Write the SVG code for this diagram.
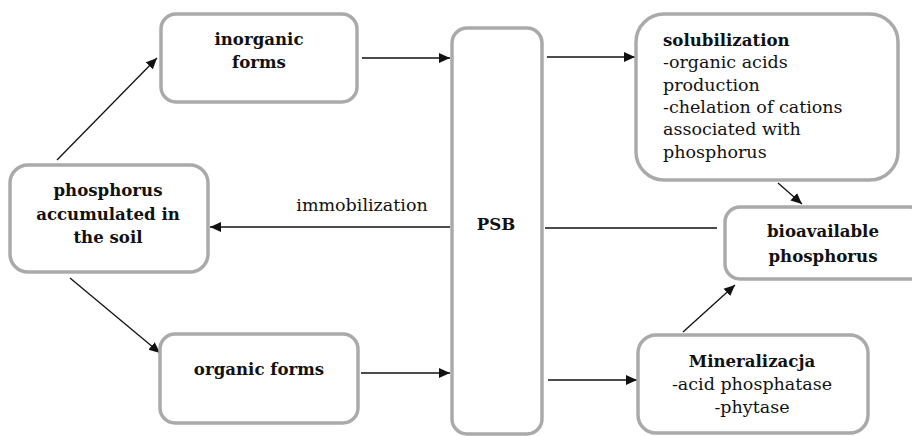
<svg xmlns="http://www.w3.org/2000/svg" width="912" height="436" viewBox="0 0 912 436">
<style>
.box{fill:#fff;stroke:#aaaaaa;stroke-width:3.5}
.t{font-family:"DejaVu Serif","Liberation Serif",serif;font-size:17.5px;fill:#111}
.b{font-weight:bold;font-size:16.6px}
.m{text-anchor:middle}
.c{stroke:#111;stroke-width:1.3;fill:none}
</style>
<defs>
<marker id="ah" viewBox="0 0 10 10" refX="10" refY="5" markerWidth="11" markerHeight="11" markerUnits="userSpaceOnUse" orient="auto">
<path d="M0,0.5 L10,5 L0,9.5 Z" fill="#111"/>
</marker>
</defs>
<rect width="912" height="436" fill="#fff"/>
<g id="connectors">
<line class="c" x1="57" y1="160" x2="157" y2="58" marker-end="url(#ah)"/>
<line class="c" x1="70" y1="278" x2="160" y2="353" marker-end="url(#ah)"/>
<line class="c" x1="362" y1="58" x2="450" y2="58" marker-end="url(#ah)"/>
<line class="c" x1="361" y1="373" x2="450" y2="373" marker-end="url(#ah)"/>
<line class="c" x1="450" y1="227" x2="210" y2="227" marker-end="url(#ah)"/>
<line class="c" x1="545" y1="228" x2="717" y2="228"/>
<line class="c" x1="547" y1="57" x2="635" y2="57" marker-end="url(#ah)"/>
<line class="c" x1="548" y1="380" x2="637" y2="380" marker-end="url(#ah)"/>
<line class="c" x1="778" y1="183" x2="802" y2="204" marker-end="url(#ah)"/>
<line class="c" x1="683" y1="332" x2="735" y2="285" marker-end="url(#ah)"/>
<text class="t" x="362" y="211" text-anchor="middle">immobilization</text>
</g>
<g id="inorganic">
<rect class="box" x="161" y="14" width="196" height="88" rx="15"/>
<text class="t b m" x="259" y="45">inorganic</text>
<text class="t b m" x="259" y="68">forms</text>
</g>
<g id="phosphorus">
<rect class="box" x="10" y="165" width="198" height="107" rx="18"/>
<text class="t b m" x="108" y="196">phosphorus</text>
<text class="t b m" x="108" y="220">accumulated in</text>
<text class="t b m" x="108" y="243">the soil</text>
</g>
<g id="organic">
<rect class="box" x="160" y="334" width="198" height="89" rx="15"/>
<text class="t b m" x="259" y="375">organic forms</text>
</g>
<g id="psb">
<rect class="box" x="452" y="28" width="90" height="406" rx="15"/>
<text class="t b m" x="496" y="230">PSB</text>
</g>
<g id="solubilization">
<rect class="box" x="636" y="14" width="262" height="166" rx="28"/>
<text class="t b" x="663" y="46">solubilization</text>
<text class="t" x="663" y="68">-organic acids</text>
<text class="t" x="663" y="91">production</text>
<text class="t" x="663" y="113">-chelation of cations</text>
<text class="t" x="663" y="135">associated with</text>
<text class="t" x="663" y="158">phosphorus</text>
</g>
<g id="bioavailable">
<rect class="box" x="725" y="207" width="200" height="72" rx="15"/>
<text class="t b m" x="823" y="237">bioavailable</text>
<text class="t b m" x="823" y="262">phosphorus</text>
</g>
<g id="mineralizacja">
<rect class="box" x="638" y="335" width="230" height="98" rx="18"/>
<text class="t b m" x="752" y="367">Mineralizacja</text>
<text class="t m" x="752" y="390">-acid phosphatase</text>
<text class="t m" x="752" y="413">-phytase</text>
</g>
</svg>
